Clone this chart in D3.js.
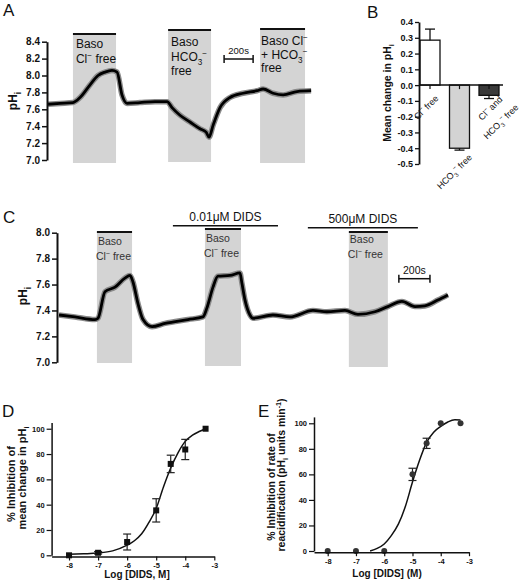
<!DOCTYPE html>
<html><head><meta charset="utf-8">
<script src="https://cdn.jsdelivr.net/npm/d3@7"></script>
<style>body{margin:0;background:#fff}svg{display:block;font-family:"Liberation Sans",Arial,Helvetica,sans-serif}</style>
</head><body><svg id="c" width="520" height="585"></svg>
<script>
// ---------- Panel A data ----------
const traceA_time = [0,83,172,221,290,345,393,441,476,510,545,634,738,821,855,910,979,1048,1090,1110,1138,1186,1255,1345,1441,1483,1552,1621,1717,1814];
const traceA_pH   = [7.66,7.67,7.68,7.74,7.89,8.00,8.04,8.06,8.04,7.77,7.67,7.68,7.69,7.69,7.62,7.53,7.45,7.37,7.33,7.27,7.41,7.62,7.74,7.79,7.82,7.84,7.79,7.77,7.81,7.82];
const periodsA_start = [172, 828, 1462];
const periodsA_end   = [469, 1124, 1772];
const ticksA = [7.0,7.2,7.4,7.6,7.8,8.0,8.2,8.4];
const scaleBarA = [1214, 1414];

// ---------- Panel B data ----------
const catsB = ["Cl- free", "HCO3- free", "Cl- and HCO3- free"];
const meanB = [0.285, -0.40, -0.065];
const semB  = [0.07, 0.012, 0.02];
const ticksB = [-0.5,-0.4,-0.3,-0.2,-0.1,0.0,0.1,0.2,0.3,0.4];

// ---------- Panel C data ----------
const traceC_time = [0,103,233,252,297,362,426,459,478,510,543,601,685,833,930,956,995,1027,1105,1169,1182,1202,1234,1253,1382,1492,1641,1731,1848,1932,2041,2125,2216,2300,2364,2448,2513];
const traceC_pH   = [7.365,7.35,7.33,7.34,7.545,7.58,7.65,7.67,7.62,7.455,7.33,7.275,7.30,7.33,7.35,7.42,7.58,7.665,7.67,7.69,7.61,7.48,7.365,7.34,7.365,7.35,7.40,7.39,7.40,7.37,7.39,7.43,7.47,7.43,7.435,7.48,7.52];
const periodsC_start = [245, 943, 1873];
const periodsC_end   = [472, 1176, 2125];
const didsC_start = [736, 1608];
const didsC_end   = [1415, 2319];
const didsC_label = ["0.01\u03bcM DIDS", "500\u03bcM DIDS"];
const ticksC = [7.0,7.2,7.4,7.6,7.8,8.0];
const scaleBarC = [2196, 2397];

// ---------- Panel D data ----------
const logDIDS = [-8,-7,-6,-5,-4.5,-4,-3.3];
const inhibD = [0, 2, 10.5, 35.5, 72.2, 83.6, 100];
const errD   = [0, 1, 6.3, 9.2, 6.9, 8.0, 0];
const fitD_x = [-8,-7.5,-7,-6.5,-6,-5.75,-5.5,-5.25,-5,-4.75,-4.5,-4.25,-4,-3.75,-3.5,-3.3];
const fitD_y = [0.8,1.2,1.8,3.5,8,11.5,17,26,37,54,69,81,90,95,98,100];

// ---------- Panel E data ----------
const inhibE = [0, 0, 0, 60, 84.3, 100, 100];
const errE   = [0, 0, 0, 4.8, 4.0, 0, 0];
const fitE_x = [-6.5,-6.25,-6,-5.75,-5.5,-5.25,-5,-4.75,-4.5,-4.25,-4,-3.75,-3.5,-3.3];
const fitE_y = [0,2,5.5,12,21,35,54,71,85,93,97.5,101,102.8,102.5];
const ticksDE_y = [0,20,40,60,80,100];
const ticksDE_x = [-8,-7,-6,-5,-4,-3];

// ================== drawing ==================
const svg = d3.select("#c");
svg.append("rect").attr("width",520).attr("height",585).attr("fill","#fff");
const FONT = '"Liberation Sans",Arial,Helvetica,sans-serif';
const fmt1 = d => d3.format(".1f")(d).replace("\u2212","-");
const fmt0 = d => String(d);

function rich(parent, x, y, parts, fs, opts={}) {
  const t = parent.append("text").attr("x",x).attr("y",y)
    .attr("font-size",fs).attr("fill",opts.fill||"#111")
    .attr("font-weight",opts.bold?"bold":"normal")
    .attr("text-anchor",opts.anchor||"start");
  if (opts.transform) t.attr("transform",opts.transform);
  let shift = 0;
  parts.forEach(p => {
    const target = p.sub ? 0.3 : (p.sup ? -0.42 : 0);
    const ts = t.append("tspan").text(p.t);
    if (p.sub || p.sup) ts.attr("font-size", fs*0.68);
    const d = (target - shift) * fs;
    if (d !== 0) ts.attr("dy", d.toFixed(2));
    shift = target;
  });
  return t;
}
function label(x,y,txt){ svg.append("text").attr("x",x).attr("y",y).attr("font-size",17).attr("fill","#111").text(txt); }
function styleAxis(g, fs, sw) {
  g.selectAll(".domain").attr("stroke","#111").attr("stroke-width",sw);
  g.selectAll(".tick line").attr("stroke","#111").attr("stroke-width",Math.max(1.2,sw-0.5));
  g.selectAll(".tick text").attr("font-family",FONT).attr("font-weight","bold").attr("font-size",fs).attr("fill","#111");
}
function drawTrace(g, xs, ys, tt, vv) {
  const pts = tt.map((t,i)=>[xs(t), ys(vv[i])]);
  const line = d3.line().curve(d3.curveMonotoneX);
  g.append("path").attr("d",line(pts)).attr("fill","none").attr("stroke","#8a8a8a").attr("stroke-width",5.5).attr("stroke-linejoin","round");
  g.append("path").attr("d",line(pts)).attr("fill","none").attr("stroke","#000").attr("stroke-width",2.8).attr("stroke-linejoin","round");
}

// ---------- Panel A ----------
{
  const g = svg.append("g");
  const x = d3.scaleLinear().domain([0,1820]).range([48,312]);
  const y = d3.scaleLinear().domain([7.0,8.4]).range([160,41.7]);
  const tops = [35,31,30], bots = [163,162,163];
  periodsA_start.forEach((s,i)=>{
    g.append("rect").attr("x",x(s)).attr("y",tops[i]).attr("width",x(periodsA_end[i])-x(s)).attr("height",bots[i]-tops[i]).attr("fill","#d4d4d4");
    g.append("line").attr("x1",x(s)).attr("x2",x(periodsA_end[i])).attr("y1",tops[i]-1).attr("y2",tops[i]-1).attr("stroke","#111").attr("stroke-width",2);
  });
  drawTrace(g, x, y, traceA_time, traceA_pH);
  const ax = g.append("g").attr("transform","translate(47,0)")
    .call(d3.axisLeft(y).tickValues(ticksA).tickFormat(fmt1).tickSize(5).tickSizeOuter(0).tickPadding(2));
  styleAxis(ax, 10, 2);
  rich(g, 17, 101, [{t:"pH"},{t:"i",sub:true}], 12, {bold:true, anchor:"middle", transform:"rotate(-90,17,101)"});
  rich(g, x(periodsA_start[0])+3, 48, [{t:"Baso"}], 12);
  rich(g, x(periodsA_start[0])+3, 63, [{t:"Cl"},{t:"\u2212",sup:true},{t:" free"}], 12);
  rich(g, x(periodsA_start[1])+3, 46, [{t:"Baso"}], 12);
  rich(g, x(periodsA_start[1])+3, 61, [{t:"HCO"},{t:"3",sub:true},{t:"\u2212",sup:true}], 12);
  rich(g, x(periodsA_start[1])+3, 75, [{t:"free"}], 12);
  rich(g, x(periodsA_start[2])+1, 45, [{t:"Baso Cl"},{t:"\u2212",sup:true}], 12);
  rich(g, x(periodsA_start[2])+1, 59, [{t:"+ HCO"},{t:"3",sub:true},{t:"\u2212",sup:true}], 12);
  rich(g, x(periodsA_start[2])+1, 72, [{t:"free"}], 12);
  const sb = g.append("g");
  sb.append("line").attr("x1",x(scaleBarA[0])).attr("x2",x(scaleBarA[1])).attr("y1",59).attr("y2",59).attr("stroke","#111").attr("stroke-width",1.5);
  [scaleBarA[0],scaleBarA[1]].forEach(v=>sb.append("line").attr("x1",x(v)).attr("x2",x(v)).attr("y1",55).attr("y2",63).attr("stroke","#111").attr("stroke-width",1.5));
  sb.append("text").attr("x",(x(scaleBarA[0])+x(scaleBarA[1]))/2).attr("y",54).attr("text-anchor","middle").attr("font-size",9.5).attr("fill","#111").text("200s");
  label(3,16,"A");
}

// ---------- Panel B ----------
{
  const g = svg.append("g");
  const x = d3.scaleBand().domain(catsB).range([410.5,508.5]).paddingInner(0.322).paddingOuter(0.322);
  const y = d3.scaleLinear().domain([-0.5,0.4]).range([164,22]);
  const fills = ["#ffffff","#d3d3d3","#3a3a3a"];
  catsB.forEach((c,i)=>{
    const v = meanB[i];
    g.append("rect").attr("x",x(c)).attr("width",x.bandwidth())
      .attr("y",y(Math.max(0,v))).attr("height",Math.abs(y(v)-y(0)))
      .attr("fill",fills[i]).attr("stroke","#111").attr("stroke-width",1.3);
    const cx = x(c)+x.bandwidth()/2;
    const e = v>=0 ? v+semB[i] : v-semB[i];
    g.append("line").attr("x1",cx).attr("x2",cx).attr("y1",y(v)).attr("y2",y(e)).attr("stroke","#111").attr("stroke-width",1.3);
    g.append("line").attr("x1",cx-5).attr("x2",cx+5).attr("y1",y(e)).attr("y2",y(e)).attr("stroke","#111").attr("stroke-width",1.3);
  });
  const xa = g.append("g").attr("transform",`translate(0,${y(0)})`)
    .call(d3.axisBottom(x).tickSize(4).tickSizeOuter(0).tickFormat(""));
  xa.select(".domain").attr("d",`M419,0H503`);
  styleAxis(xa, 9, 1.5);
  const ya = g.append("g").attr("transform","translate(419,0)")
    .call(d3.axisLeft(y).tickValues(ticksB).tickFormat(fmt1).tickSize(4).tickSizeOuter(0).tickPadding(2));
  styleAxis(ya, 9, 1.8);
  rich(g, 391, 93, [{t:"Mean change in pH"},{t:"i",sub:true}], 10.5, {bold:true, anchor:"middle", transform:"rotate(-90,391,93)"});
  const c0 = x(catsB[0])+x.bandwidth()/2, c1 = x(catsB[1])+x.bandwidth()/2, c2 = x(catsB[2])+x.bandwidth()/2;
  const lab = (px,py,parts)=>rich(g, px, py, parts, 9, {anchor:"end", transform:`rotate(-45,${px},${py})`});
  lab(c0+9, 99, [{t:"Cl"},{t:"\u2212",sup:true},{t:" free"}]);
  lab(c1+13, 158, [{t:"HCO"},{t:"3",sub:true},{t:"\u2212",sup:true},{t:" free"}]);
  lab(c2+14, 100, [{t:"Cl"},{t:"\u2212",sup:true},{t:" and"}]);
  lab(c2+30, 108, [{t:"HCO"},{t:"3",sub:true},{t:"\u2212",sup:true},{t:" free"}]);
  label(367,18,"B");
}

// ---------- Panel C ----------
{
  const g = svg.append("g");
  const x = d3.scaleLinear().domain([0,2520]).range([59,449]);
  const y = d3.scaleLinear().domain([7.0,8.0]).range([362.3,232.7]);
  const tops = [232,229,232], bots = [363,366,367];
  periodsC_start.forEach((s,i)=>{
    g.append("rect").attr("x",x(s)).attr("y",tops[i]).attr("width",x(periodsC_end[i])-x(s)).attr("height",bots[i]-tops[i]).attr("fill","#d4d4d4");
    g.append("line").attr("x1",x(s)).attr("x2",x(periodsC_end[i])).attr("y1",tops[i]).attr("y2",tops[i]).attr("stroke","#111").attr("stroke-width",2);
  });
  const dy = [225.7, 227.7];
  didsC_start.forEach((s,i)=>{
    g.append("line").attr("x1",x(s)).attr("x2",x(didsC_end[i])).attr("y1",dy[i]).attr("y2",dy[i]).attr("stroke","#111").attr("stroke-width",1.5);
    g.append("text").attr("x",(x(s)+x(didsC_end[i]))/2).attr("y",dy[i]-4.5).attr("text-anchor","middle").attr("font-size",12).attr("fill","#111").text(didsC_label[i]);
  });
  drawTrace(g, x, y, traceC_time, traceC_pH);
  const ax = g.append("g").attr("transform","translate(57,0)")
    .call(d3.axisLeft(y).tickValues(ticksC).tickFormat(fmt1).tickSize(5).tickSizeOuter(0).tickPadding(2));
  styleAxis(ax, 10, 2);
  rich(g, 27, 296, [{t:"pH"},{t:"i",sub:true}], 12, {bold:true, anchor:"middle", transform:"rotate(-90,27,296)"});
  const by = [245, 241.7, 243];
  periodsC_start.forEach((s,i)=>{
    rich(g, x(s)+1, by[i], [{t:"Baso"}], 10.5, {fill:"#333"});
    rich(g, x(s)-1, by[i]+15, [{t:"Cl"},{t:"\u2212",sup:true},{t:" free"}], 10.5, {fill:"#333"});
  });
  const sb = g.append("g");
  const sy = 278.7;
  sb.append("line").attr("x1",x(scaleBarC[0])).attr("x2",x(scaleBarC[1])).attr("y1",sy).attr("y2",sy).attr("stroke","#111").attr("stroke-width",1.5);
  scaleBarC.forEach(v=>sb.append("line").attr("x1",x(v)).attr("x2",x(v)).attr("y1",sy-4).attr("y2",sy+4).attr("stroke","#111").attr("stroke-width",1.5));
  sb.append("text").attr("x",(x(scaleBarC[0])+x(scaleBarC[1]))/2).attr("y",sy-5).attr("text-anchor","middle").attr("font-size",10.5).attr("fill","#111").text("200s");
  label(3,223,"C");
}

// ---------- Dose-response panel helper ----------
function dosePanel(opts) {
  const g = svg.append("g");
  const x = d3.scaleLinear().domain(opts.xdom).range(opts.xr);
  const y = d3.scaleLinear().domain([0,105]).range(opts.yr);
  const line = d3.line().curve(d3.curveMonotoneX);
  g.append("path").attr("d", line(opts.fx.map((v,i)=>[x(v), y(opts.fy[i])]))).attr("fill","none").attr("stroke","#111").attr("stroke-width",1.5);
  logDIDS.forEach((v,i)=>{
    const e = opts.err[i];
    const cx = x(v);
    if (e > 0) {
      g.append("line").attr("x1",cx).attr("x2",cx).attr("y1",y(opts.vals[i]-e)).attr("y2",y(opts.vals[i]+e)).attr("stroke","#222").attr("stroke-width",1.2);
      [opts.vals[i]-e, opts.vals[i]+e].forEach(w=>g.append("line").attr("x1",cx-4).attr("x2",cx+4).attr("y1",y(w)).attr("y2",y(w)).attr("stroke","#222").attr("stroke-width",1.2));
    }
  });
  logDIDS.forEach((v,i)=>{
    if (opts.square) g.append("rect").attr("x",x(v)-3).attr("y",y(opts.vals[i])-3).attr("width",6).attr("height",6).attr("fill","#111");
    else g.append("circle").attr("cx",x(v)).attr("cy",y(opts.vals[i])).attr("r",3).attr("fill","#333");
  });
  const ya = g.append("g").attr("transform",`translate(${opts.xr[0]},0)`)
    .call(d3.axisLeft(y).tickValues(ticksDE_y).tickFormat(fmt0).tickSize(5).tickSizeOuter(0).tickPadding(2));
  styleAxis(ya, 7.5, 1.5);
  const xa = g.append("g").attr("transform",`translate(0,${y(0)+1.2})`)
    .call(d3.axisBottom(x).tickValues(ticksDE_x).tickFormat(fmt0).tickSize(4).tickSizeOuter(0).tickPadding(2));
  styleAxis(xa, 7.5, 1.5);
  return {g, x, y};
}

// ---------- Panel D ----------
{
  const {g} = dosePanel({xdom:[-8.6,-3], xr:[51.6,214.3], yr:[555.3,422.4], vals:inhibD, err:errD, fx:fitD_x, fy:fitD_y, square:true});
  rich(g, 15, 484, [{t:"% Inhibition of"}], 11, {bold:true, anchor:"middle", transform:"rotate(-90,15,484)"});
  rich(g, 26, 478, [{t:"mean change in pH"},{t:"i",sub:true}], 11, {bold:true, anchor:"middle", transform:"rotate(-90,26,478)"});
  g.append("text").attr("x",137).attr("y",578).attr("text-anchor","middle").attr("font-size",10).attr("font-weight","bold").attr("fill","#111").text("Log [DIDS, M]");
  label(2,417,"D");
}

// ---------- Panel E ----------
{
  const {g} = dosePanel({xdom:[-8.485,-3], xr:[314,469], yr:[551,416.9], vals:inhibE, err:errE, fx:fitE_x, fy:fitE_y, square:false});
  rich(g, 275, 487, [{t:"% Inhibition of rate of"}], 10.5, {bold:true, anchor:"middle", transform:"rotate(-90,275,487)"});
  rich(g, 285, 475, [{t:"reacidification (pH"},{t:"i",sub:true},{t:" units min"},{t:"-1",sup:true},{t:")"}], 10.5, {bold:true, anchor:"middle", transform:"rotate(-90,285,475)"});
  g.append("text").attr("x",387).attr("y",577).attr("text-anchor","middle").attr("font-size",10).attr("font-weight","bold").attr("fill","#111").text("Log [DIDS] (M)");
  label(258,417,"E");
}
</script></body></html>
